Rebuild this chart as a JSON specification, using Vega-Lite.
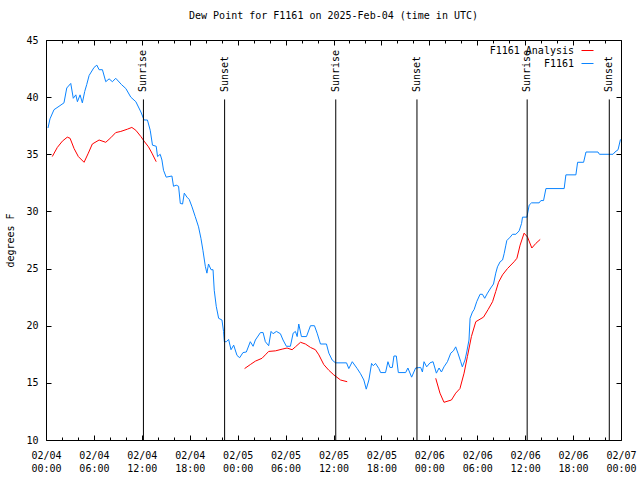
{
  "$schema": "https://vega.github.io/schema/vega-lite/v6.json",
  "width": 575,
  "height": 400,
  "autosize": {"type": "none"},
  "padding": {"left": 46, "top": 40, "right": 19, "bottom": 40},
  "background": "white",
  "title": {"text": "Dew Point for F1161 on 2025-Feb-04 (time in UTC)", "font": "DejaVu Sans Mono", "fontSize": 10, "fontWeight": "normal", "color": "black", "offset": 14, "anchor": "middle"},
  "config": {
    "view": {"stroke": "black", "strokeWidth": 1},
    "axis": {"domain": false, "grid": false, "labelFont": "DejaVu Sans Mono", "labelFontSize": 10, "labelColor": "black", "tickColor": "black", "tickWidth": 1, "titleFont": "DejaVu Sans Mono", "titleFontSize": 10, "titleFontWeight": "normal", "titleColor": "black", "labelFlush": false, "labelOverlap": false, "labelBound": false},
    "legend": {"labelFont": "DejaVu Sans Mono", "labelFontSize": 10, "labelColor": "black"}
  },
  "datasets": {
    "obs": [
      {"series": "F1161", "seg": "b", "t": "2025-02-04T00:15:00Z", "v": 37.3},
      {"series": "F1161", "seg": "b", "t": "2025-02-04T00:30:00Z", "v": 38.1},
      {"series": "F1161", "seg": "b", "t": "2025-02-04T01:00:00Z", "v": 38.9},
      {"series": "F1161", "seg": "b", "t": "2025-02-04T01:38:00Z", "v": 39.2},
      {"series": "F1161", "seg": "b", "t": "2025-02-04T02:15:00Z", "v": 39.5},
      {"series": "F1161", "seg": "b", "t": "2025-02-04T02:36:00Z", "v": 40.8},
      {"series": "F1161", "seg": "b", "t": "2025-02-04T03:06:00Z", "v": 41.2},
      {"series": "F1161", "seg": "b", "t": "2025-02-04T03:25:00Z", "v": 39.9},
      {"series": "F1161", "seg": "b", "t": "2025-02-04T03:44:00Z", "v": 40.2},
      {"series": "F1161", "seg": "b", "t": "2025-02-04T03:56:00Z", "v": 39.6},
      {"series": "F1161", "seg": "b", "t": "2025-02-04T04:16:00Z", "v": 40.2},
      {"series": "F1161", "seg": "b", "t": "2025-02-04T04:33:00Z", "v": 39.5},
      {"series": "F1161", "seg": "b", "t": "2025-02-04T04:51:00Z", "v": 40.5},
      {"series": "F1161", "seg": "b", "t": "2025-02-04T05:06:00Z", "v": 41.1},
      {"series": "F1161", "seg": "b", "t": "2025-02-04T05:24:00Z", "v": 41.9},
      {"series": "F1161", "seg": "b", "t": "2025-02-04T06:01:00Z", "v": 42.6},
      {"series": "F1161", "seg": "b", "t": "2025-02-04T06:22:00Z", "v": 42.8},
      {"series": "F1161", "seg": "b", "t": "2025-02-04T06:39:00Z", "v": 42.4},
      {"series": "F1161", "seg": "b", "t": "2025-02-04T07:04:00Z", "v": 42.4},
      {"series": "F1161", "seg": "b", "t": "2025-02-04T07:29:00Z", "v": 41.35},
      {"series": "F1161", "seg": "b", "t": "2025-02-04T07:54:00Z", "v": 41.6},
      {"series": "F1161", "seg": "b", "t": "2025-02-04T08:19:00Z", "v": 41.35},
      {"series": "F1161", "seg": "b", "t": "2025-02-04T08:44:00Z", "v": 41.65},
      {"series": "F1161", "seg": "b", "t": "2025-02-04T09:27:00Z", "v": 41.1},
      {"series": "F1161", "seg": "b", "t": "2025-02-04T10:00:00Z", "v": 40.75},
      {"series": "F1161", "seg": "b", "t": "2025-02-04T10:37:00Z", "v": 40.0},
      {"series": "F1161", "seg": "b", "t": "2025-02-04T11:15:00Z", "v": 39.6},
      {"series": "F1161", "seg": "b", "t": "2025-02-04T11:53:00Z", "v": 38.7},
      {"series": "F1161", "seg": "b", "t": "2025-02-04T12:17:00Z", "v": 38.0},
      {"series": "F1161", "seg": "b", "t": "2025-02-04T12:42:00Z", "v": 38.0},
      {"series": "F1161", "seg": "b", "t": "2025-02-04T13:03:00Z", "v": 37.1},
      {"series": "F1161", "seg": "b", "t": "2025-02-04T13:20:00Z", "v": 35.8},
      {"series": "F1161", "seg": "b", "t": "2025-02-04T13:48:00Z", "v": 35.7},
      {"series": "F1161", "seg": "b", "t": "2025-02-04T13:58:00Z", "v": 34.8},
      {"series": "F1161", "seg": "b", "t": "2025-02-04T14:18:00Z", "v": 35.0},
      {"series": "F1161", "seg": "b", "t": "2025-02-04T14:31:00Z", "v": 34.5},
      {"series": "F1161", "seg": "b", "t": "2025-02-04T14:43:00Z", "v": 33.6},
      {"series": "F1161", "seg": "b", "t": "2025-02-04T15:03:00Z", "v": 33.0},
      {"series": "F1161", "seg": "b", "t": "2025-02-04T15:46:00Z", "v": 33.1},
      {"series": "F1161", "seg": "b", "t": "2025-02-04T15:58:00Z", "v": 32.2},
      {"series": "F1161", "seg": "b", "t": "2025-02-04T16:18:00Z", "v": 32.3},
      {"series": "F1161", "seg": "b", "t": "2025-02-04T16:36:00Z", "v": 32.2},
      {"series": "F1161", "seg": "b", "t": "2025-02-04T16:49:00Z", "v": 30.7},
      {"series": "F1161", "seg": "b", "t": "2025-02-04T17:06:00Z", "v": 30.65},
      {"series": "F1161", "seg": "b", "t": "2025-02-04T17:19:00Z", "v": 31.6},
      {"series": "F1161", "seg": "b", "t": "2025-02-04T17:39:00Z", "v": 31.25},
      {"series": "F1161", "seg": "b", "t": "2025-02-04T17:56:00Z", "v": 31.05},
      {"series": "F1161", "seg": "b", "t": "2025-02-04T18:17:00Z", "v": 30.4},
      {"series": "F1161", "seg": "b", "t": "2025-02-04T18:41:00Z", "v": 29.55},
      {"series": "F1161", "seg": "b", "t": "2025-02-04T19:06:00Z", "v": 28.65},
      {"series": "F1161", "seg": "b", "t": "2025-02-04T19:24:00Z", "v": 27.65},
      {"series": "F1161", "seg": "b", "t": "2025-02-04T19:39:00Z", "v": 26.6},
      {"series": "F1161", "seg": "b", "t": "2025-02-04T19:57:00Z", "v": 25.2},
      {"series": "F1161", "seg": "b", "t": "2025-02-04T20:09:00Z", "v": 24.6},
      {"series": "F1161", "seg": "b", "t": "2025-02-04T20:21:00Z", "v": 25.4},
      {"series": "F1161", "seg": "b", "t": "2025-02-04T20:40:00Z", "v": 24.9},
      {"series": "F1161", "seg": "b", "t": "2025-02-04T20:55:00Z", "v": 24.9},
      {"series": "F1161", "seg": "b", "t": "2025-02-04T21:04:00Z", "v": 23.1},
      {"series": "F1161", "seg": "b", "t": "2025-02-04T21:19:00Z", "v": 21.7},
      {"series": "F1161", "seg": "b", "t": "2025-02-04T21:37:00Z", "v": 20.65},
      {"series": "F1161", "seg": "b", "t": "2025-02-04T22:02:00Z", "v": 20.5},
      {"series": "F1161", "seg": "b", "t": "2025-02-04T22:14:00Z", "v": 19.5},
      {"series": "F1161", "seg": "b", "t": "2025-02-04T22:20:00Z", "v": 18.6},
      {"series": "F1161", "seg": "b", "t": "2025-02-04T22:35:00Z", "v": 18.6},
      {"series": "F1161", "seg": "b", "t": "2025-02-04T22:52:00Z", "v": 18.8},
      {"series": "F1161", "seg": "b", "t": "2025-02-04T23:10:00Z", "v": 17.9},
      {"series": "F1161", "seg": "b", "t": "2025-02-04T23:30:00Z", "v": 18.3},
      {"series": "F1161", "seg": "b", "t": "2025-02-04T23:55:00Z", "v": 17.4},
      {"series": "F1161", "seg": "b", "t": "2025-02-05T00:15:00Z", "v": 17.2},
      {"series": "F1161", "seg": "b", "t": "2025-02-05T00:40:00Z", "v": 17.65},
      {"series": "F1161", "seg": "b", "t": "2025-02-05T01:05:00Z", "v": 17.7},
      {"series": "F1161", "seg": "b", "t": "2025-02-05T01:35:00Z", "v": 18.6},
      {"series": "F1161", "seg": "b", "t": "2025-02-05T01:56:00Z", "v": 18.2},
      {"series": "F1161", "seg": "b", "t": "2025-02-05T02:13:00Z", "v": 18.75},
      {"series": "F1161", "seg": "b", "t": "2025-02-05T02:51:00Z", "v": 19.4},
      {"series": "F1161", "seg": "b", "t": "2025-02-05T03:11:00Z", "v": 19.4},
      {"series": "F1161", "seg": "b", "t": "2025-02-05T03:28:00Z", "v": 18.6},
      {"series": "F1161", "seg": "b", "t": "2025-02-05T03:53:00Z", "v": 18.25},
      {"series": "F1161", "seg": "b", "t": "2025-02-05T04:11:00Z", "v": 19.5},
      {"series": "F1161", "seg": "b", "t": "2025-02-05T04:26:00Z", "v": 19.3},
      {"series": "F1161", "seg": "b", "t": "2025-02-05T04:51:00Z", "v": 19.5},
      {"series": "F1161", "seg": "b", "t": "2025-02-05T05:21:00Z", "v": 19.3},
      {"series": "F1161", "seg": "b", "t": "2025-02-05T05:41:00Z", "v": 18.75},
      {"series": "F1161", "seg": "b", "t": "2025-02-05T06:06:00Z", "v": 18.2},
      {"series": "F1161", "seg": "b", "t": "2025-02-05T06:36:00Z", "v": 18.2},
      {"series": "F1161", "seg": "b", "t": "2025-02-05T06:57:00Z", "v": 19.35},
      {"series": "F1161", "seg": "b", "t": "2025-02-05T07:14:00Z", "v": 19.5},
      {"series": "F1161", "seg": "b", "t": "2025-02-05T07:27:00Z", "v": 19.05},
      {"series": "F1161", "seg": "b", "t": "2025-02-05T07:39:00Z", "v": 20.15},
      {"series": "F1161", "seg": "b", "t": "2025-02-05T07:59:00Z", "v": 19.05},
      {"series": "F1161", "seg": "b", "t": "2025-02-05T08:37:00Z", "v": 19.05},
      {"series": "F1161", "seg": "b", "t": "2025-02-05T09:07:00Z", "v": 20.0},
      {"series": "F1161", "seg": "b", "t": "2025-02-05T09:37:00Z", "v": 20.0},
      {"series": "F1161", "seg": "b", "t": "2025-02-05T09:57:00Z", "v": 19.35},
      {"series": "F1161", "seg": "b", "t": "2025-02-05T10:22:00Z", "v": 18.4},
      {"series": "F1161", "seg": "b", "t": "2025-02-05T11:07:00Z", "v": 18.4},
      {"series": "F1161", "seg": "b", "t": "2025-02-05T11:25:00Z", "v": 17.6},
      {"series": "F1161", "seg": "b", "t": "2025-02-05T11:50:00Z", "v": 17.0},
      {"series": "F1161", "seg": "b", "t": "2025-02-05T12:15:00Z", "v": 16.75},
      {"series": "F1161", "seg": "b", "t": "2025-02-05T13:38:00Z", "v": 16.75},
      {"series": "F1161", "seg": "b", "t": "2025-02-05T13:55:00Z", "v": 16.25},
      {"series": "F1161", "seg": "b", "t": "2025-02-05T14:21:00Z", "v": 16.85},
      {"series": "F1161", "seg": "b", "t": "2025-02-05T14:58:00Z", "v": 16.25},
      {"series": "F1161", "seg": "b", "t": "2025-02-05T15:23:00Z", "v": 15.8},
      {"series": "F1161", "seg": "b", "t": "2025-02-05T15:48:00Z", "v": 15.25},
      {"series": "F1161", "seg": "b", "t": "2025-02-05T16:06:00Z", "v": 14.45},
      {"series": "F1161", "seg": "b", "t": "2025-02-05T16:26:00Z", "v": 15.25},
      {"series": "F1161", "seg": "b", "t": "2025-02-05T16:46:00Z", "v": 16.7},
      {"series": "F1161", "seg": "b", "t": "2025-02-05T16:59:00Z", "v": 16.5},
      {"series": "F1161", "seg": "b", "t": "2025-02-05T17:16:00Z", "v": 16.7},
      {"series": "F1161", "seg": "b", "t": "2025-02-05T17:41:00Z", "v": 16.25},
      {"series": "F1161", "seg": "b", "t": "2025-02-05T17:54:00Z", "v": 15.9},
      {"series": "F1161", "seg": "b", "t": "2025-02-05T18:31:00Z", "v": 15.9},
      {"series": "F1161", "seg": "b", "t": "2025-02-05T18:49:00Z", "v": 16.85},
      {"series": "F1161", "seg": "b", "t": "2025-02-05T19:04:00Z", "v": 16.35},
      {"series": "F1161", "seg": "b", "t": "2025-02-05T19:22:00Z", "v": 16.35},
      {"series": "F1161", "seg": "b", "t": "2025-02-05T19:34:00Z", "v": 17.35},
      {"series": "F1161", "seg": "b", "t": "2025-02-05T19:52:00Z", "v": 17.35},
      {"series": "F1161", "seg": "b", "t": "2025-02-05T20:07:00Z", "v": 15.9},
      {"series": "F1161", "seg": "b", "t": "2025-02-05T21:02:00Z", "v": 15.9},
      {"series": "F1161", "seg": "b", "t": "2025-02-05T21:19:00Z", "v": 16.3},
      {"series": "F1161", "seg": "b", "t": "2025-02-05T21:47:00Z", "v": 15.5},
      {"series": "F1161", "seg": "b", "t": "2025-02-05T22:17:00Z", "v": 16.3},
      {"series": "F1161", "seg": "b", "t": "2025-02-05T22:55:00Z", "v": 16.35},
      {"series": "F1161", "seg": "b", "t": "2025-02-05T23:08:00Z", "v": 15.95},
      {"series": "F1161", "seg": "b", "t": "2025-02-05T23:20:00Z", "v": 16.85},
      {"series": "F1161", "seg": "b", "t": "2025-02-05T23:40:00Z", "v": 16.4},
      {"series": "F1161", "seg": "b", "t": "2025-02-06T00:05:00Z", "v": 16.75},
      {"series": "F1161", "seg": "b", "t": "2025-02-06T00:28:00Z", "v": 16.85},
      {"series": "F1161", "seg": "b", "t": "2025-02-06T00:53:00Z", "v": 15.85},
      {"series": "F1161", "seg": "b", "t": "2025-02-06T01:13:00Z", "v": 16.3},
      {"series": "F1161", "seg": "b", "t": "2025-02-06T01:31:00Z", "v": 15.95},
      {"series": "F1161", "seg": "b", "t": "2025-02-06T01:50:00Z", "v": 16.4},
      {"series": "F1161", "seg": "b", "t": "2025-02-06T02:16:00Z", "v": 16.85},
      {"series": "F1161", "seg": "b", "t": "2025-02-06T02:41:00Z", "v": 17.6},
      {"series": "F1161", "seg": "b", "t": "2025-02-06T03:01:00Z", "v": 17.8},
      {"series": "F1161", "seg": "b", "t": "2025-02-06T03:18:00Z", "v": 18.15},
      {"series": "F1161", "seg": "b", "t": "2025-02-06T03:35:00Z", "v": 17.6},
      {"series": "F1161", "seg": "b", "t": "2025-02-06T03:56:00Z", "v": 16.85},
      {"series": "F1161", "seg": "b", "t": "2025-02-06T04:08:00Z", "v": 16.4},
      {"series": "F1161", "seg": "b", "t": "2025-02-06T04:28:00Z", "v": 17.0},
      {"series": "F1161", "seg": "b", "t": "2025-02-06T04:41:00Z", "v": 17.7},
      {"series": "F1161", "seg": "b", "t": "2025-02-06T04:58:00Z", "v": 18.75},
      {"series": "F1161", "seg": "b", "t": "2025-02-06T05:06:00Z", "v": 20.65},
      {"series": "F1161", "seg": "b", "t": "2025-02-06T05:24:00Z", "v": 21.2},
      {"series": "F1161", "seg": "b", "t": "2025-02-06T05:36:00Z", "v": 21.4},
      {"series": "F1161", "seg": "b", "t": "2025-02-06T05:56:00Z", "v": 22.1},
      {"series": "F1161", "seg": "b", "t": "2025-02-06T06:21:00Z", "v": 22.75},
      {"series": "F1161", "seg": "b", "t": "2025-02-06T06:39:00Z", "v": 22.75},
      {"series": "F1161", "seg": "b", "t": "2025-02-06T06:56:00Z", "v": 22.4},
      {"series": "F1161", "seg": "b", "t": "2025-02-06T07:17:00Z", "v": 22.85},
      {"series": "F1161", "seg": "b", "t": "2025-02-06T07:41:00Z", "v": 23.3},
      {"series": "F1161", "seg": "b", "t": "2025-02-06T08:02:00Z", "v": 23.65},
      {"series": "F1161", "seg": "b", "t": "2025-02-06T08:19:00Z", "v": 24.6},
      {"series": "F1161", "seg": "b", "t": "2025-02-06T08:32:00Z", "v": 25.15},
      {"series": "F1161", "seg": "b", "t": "2025-02-06T08:52:00Z", "v": 25.6},
      {"series": "F1161", "seg": "b", "t": "2025-02-06T09:10:00Z", "v": 25.75},
      {"series": "F1161", "seg": "b", "t": "2025-02-06T09:22:00Z", "v": 26.3},
      {"series": "F1161", "seg": "b", "t": "2025-02-06T09:35:00Z", "v": 27.05},
      {"series": "F1161", "seg": "b", "t": "2025-02-06T09:42:00Z", "v": 27.45},
      {"series": "F1161", "seg": "b", "t": "2025-02-06T10:07:00Z", "v": 27.75},
      {"series": "F1161", "seg": "b", "t": "2025-02-06T10:25:00Z", "v": 28.0},
      {"series": "F1161", "seg": "b", "t": "2025-02-06T10:50:00Z", "v": 28.0},
      {"series": "F1161", "seg": "b", "t": "2025-02-06T11:15:00Z", "v": 28.3},
      {"series": "F1161", "seg": "b", "t": "2025-02-06T11:33:00Z", "v": 28.95},
      {"series": "F1161", "seg": "b", "t": "2025-02-06T11:40:00Z", "v": 29.5},
      {"series": "F1161", "seg": "b", "t": "2025-02-06T12:13:00Z", "v": 29.5},
      {"series": "F1161", "seg": "b", "t": "2025-02-06T12:30:00Z", "v": 30.55},
      {"series": "F1161", "seg": "b", "t": "2025-02-06T12:48:00Z", "v": 30.75},
      {"series": "F1161", "seg": "b", "t": "2025-02-06T13:45:00Z", "v": 30.75},
      {"series": "F1161", "seg": "b", "t": "2025-02-06T13:58:00Z", "v": 30.95},
      {"series": "F1161", "seg": "b", "t": "2025-02-06T14:18:00Z", "v": 30.95},
      {"series": "F1161", "seg": "b", "t": "2025-02-06T14:36:00Z", "v": 32.0},
      {"series": "F1161", "seg": "b", "t": "2025-02-06T16:53:00Z", "v": 32.0},
      {"series": "F1161", "seg": "b", "t": "2025-02-06T17:06:00Z", "v": 33.2},
      {"series": "F1161", "seg": "b", "t": "2025-02-06T18:21:00Z", "v": 33.2},
      {"series": "F1161", "seg": "b", "t": "2025-02-06T18:34:00Z", "v": 34.3},
      {"series": "F1161", "seg": "b", "t": "2025-02-06T19:19:00Z", "v": 34.3},
      {"series": "F1161", "seg": "b", "t": "2025-02-06T19:37:00Z", "v": 35.2},
      {"series": "F1161", "seg": "b", "t": "2025-02-06T21:07:00Z", "v": 35.2},
      {"series": "F1161", "seg": "b", "t": "2025-02-06T21:18:00Z", "v": 35.0},
      {"series": "F1161", "seg": "b", "t": "2025-02-06T23:00:00Z", "v": 35.0},
      {"series": "F1161", "seg": "b", "t": "2025-02-06T23:15:00Z", "v": 35.2},
      {"series": "F1161", "seg": "b", "t": "2025-02-06T23:38:00Z", "v": 35.4},
      {"series": "F1161", "seg": "b", "t": "2025-02-06T23:56:00Z", "v": 36.3},
      {"series": "F1161 Analysis", "seg": "r1", "t": "2025-02-04T00:47:00Z", "v": 34.8},
      {"series": "F1161 Analysis", "seg": "r1", "t": "2025-02-04T01:25:00Z", "v": 35.6},
      {"series": "F1161 Analysis", "seg": "r1", "t": "2025-02-04T02:03:00Z", "v": 36.15},
      {"series": "F1161 Analysis", "seg": "r1", "t": "2025-02-04T02:40:00Z", "v": 36.5},
      {"series": "F1161 Analysis", "seg": "r1", "t": "2025-02-04T03:01:00Z", "v": 36.4},
      {"series": "F1161 Analysis", "seg": "r1", "t": "2025-02-04T03:31:00Z", "v": 35.5},
      {"series": "F1161 Analysis", "seg": "r1", "t": "2025-02-04T04:03:00Z", "v": 34.8},
      {"series": "F1161 Analysis", "seg": "r1", "t": "2025-02-04T04:46:00Z", "v": 34.3},
      {"series": "F1161 Analysis", "seg": "r1", "t": "2025-02-04T05:18:00Z", "v": 35.1},
      {"series": "F1161 Analysis", "seg": "r1", "t": "2025-02-04T05:48:00Z", "v": 35.9},
      {"series": "F1161 Analysis", "seg": "r1", "t": "2025-02-04T06:39:00Z", "v": 36.25},
      {"series": "F1161 Analysis", "seg": "r1", "t": "2025-02-04T07:29:00Z", "v": 36.05},
      {"series": "F1161 Analysis", "seg": "r1", "t": "2025-02-04T08:07:00Z", "v": 36.45},
      {"series": "F1161 Analysis", "seg": "r1", "t": "2025-02-04T08:44:00Z", "v": 36.9},
      {"series": "F1161 Analysis", "seg": "r1", "t": "2025-02-04T09:22:00Z", "v": 37.0},
      {"series": "F1161 Analysis", "seg": "r1", "t": "2025-02-04T10:12:00Z", "v": 37.2},
      {"series": "F1161 Analysis", "seg": "r1", "t": "2025-02-04T10:45:00Z", "v": 37.35},
      {"series": "F1161 Analysis", "seg": "r1", "t": "2025-02-04T11:15:00Z", "v": 37.1},
      {"series": "F1161 Analysis", "seg": "r1", "t": "2025-02-04T11:53:00Z", "v": 36.55},
      {"series": "F1161 Analysis", "seg": "r1", "t": "2025-02-04T12:17:00Z", "v": 36.15},
      {"series": "F1161 Analysis", "seg": "r1", "t": "2025-02-04T12:50:00Z", "v": 35.65},
      {"series": "F1161 Analysis", "seg": "r1", "t": "2025-02-04T13:16:00Z", "v": 35.1},
      {"series": "F1161 Analysis", "seg": "r1", "t": "2025-02-04T13:48:00Z", "v": 34.35},
      {"series": "F1161 Analysis", "seg": "r2", "t": "2025-02-05T00:52:00Z", "v": 16.25},
      {"series": "F1161 Analysis", "seg": "r2", "t": "2025-02-05T01:35:00Z", "v": 16.6},
      {"series": "F1161 Analysis", "seg": "r2", "t": "2025-02-05T02:13:00Z", "v": 16.9},
      {"series": "F1161 Analysis", "seg": "r2", "t": "2025-02-05T03:03:00Z", "v": 17.15},
      {"series": "F1161 Analysis", "seg": "r2", "t": "2025-02-05T03:28:00Z", "v": 17.45},
      {"series": "F1161 Analysis", "seg": "r2", "t": "2025-02-05T03:53:00Z", "v": 17.75},
      {"series": "F1161 Analysis", "seg": "r2", "t": "2025-02-05T04:44:00Z", "v": 17.8},
      {"series": "F1161 Analysis", "seg": "r2", "t": "2025-02-05T05:34:00Z", "v": 17.95},
      {"series": "F1161 Analysis", "seg": "r2", "t": "2025-02-05T06:11:00Z", "v": 18.05},
      {"series": "F1161 Analysis", "seg": "r2", "t": "2025-02-05T06:49:00Z", "v": 17.9},
      {"series": "F1161 Analysis", "seg": "r2", "t": "2025-02-05T07:14:00Z", "v": 18.15},
      {"series": "F1161 Analysis", "seg": "r2", "t": "2025-02-05T07:52:00Z", "v": 18.55},
      {"series": "F1161 Analysis", "seg": "r2", "t": "2025-02-05T08:29:00Z", "v": 18.4},
      {"series": "F1161 Analysis", "seg": "r2", "t": "2025-02-05T09:07:00Z", "v": 18.1},
      {"series": "F1161 Analysis", "seg": "r2", "t": "2025-02-05T09:44:00Z", "v": 17.9},
      {"series": "F1161 Analysis", "seg": "r2", "t": "2025-02-05T10:10:00Z", "v": 17.45},
      {"series": "F1161 Analysis", "seg": "r2", "t": "2025-02-05T10:47:00Z", "v": 16.6},
      {"series": "F1161 Analysis", "seg": "r2", "t": "2025-02-05T11:25:00Z", "v": 16.1},
      {"series": "F1161 Analysis", "seg": "r2", "t": "2025-02-05T12:02:00Z", "v": 15.7},
      {"series": "F1161 Analysis", "seg": "r2", "t": "2025-02-05T12:53:00Z", "v": 15.25},
      {"series": "F1161 Analysis", "seg": "r2", "t": "2025-02-05T13:43:00Z", "v": 15.1},
      {"series": "F1161 Analysis", "seg": "r3", "t": "2025-02-06T00:48:00Z", "v": 15.4},
      {"series": "F1161 Analysis", "seg": "r3", "t": "2025-02-06T01:20:00Z", "v": 14.1},
      {"series": "F1161 Analysis", "seg": "r3", "t": "2025-02-06T01:50:00Z", "v": 13.3},
      {"series": "F1161 Analysis", "seg": "r3", "t": "2025-02-06T02:46:00Z", "v": 13.5},
      {"series": "F1161 Analysis", "seg": "r3", "t": "2025-02-06T03:18:00Z", "v": 14.1},
      {"series": "F1161 Analysis", "seg": "r3", "t": "2025-02-06T03:50:00Z", "v": 14.5},
      {"series": "F1161 Analysis", "seg": "r3", "t": "2025-02-06T04:21:00Z", "v": 15.85},
      {"series": "F1161 Analysis", "seg": "r3", "t": "2025-02-06T04:46:00Z", "v": 17.3},
      {"series": "F1161 Analysis", "seg": "r3", "t": "2025-02-06T05:16:00Z", "v": 19.05},
      {"series": "F1161 Analysis", "seg": "r3", "t": "2025-02-06T05:49:00Z", "v": 20.35},
      {"series": "F1161 Analysis", "seg": "r3", "t": "2025-02-06T06:47:00Z", "v": 20.75},
      {"series": "F1161 Analysis", "seg": "r3", "t": "2025-02-06T07:21:00Z", "v": 21.4},
      {"series": "F1161 Analysis", "seg": "r3", "t": "2025-02-06T07:55:00Z", "v": 22.1},
      {"series": "F1161 Analysis", "seg": "r3", "t": "2025-02-06T08:19:00Z", "v": 23.0},
      {"series": "F1161 Analysis", "seg": "r3", "t": "2025-02-06T08:40:00Z", "v": 23.8},
      {"series": "F1161 Analysis", "seg": "r3", "t": "2025-02-06T09:10:00Z", "v": 24.45},
      {"series": "F1161 Analysis", "seg": "r3", "t": "2025-02-06T09:47:00Z", "v": 25.0},
      {"series": "F1161 Analysis", "seg": "r3", "t": "2025-02-06T10:37:00Z", "v": 25.6},
      {"series": "F1161 Analysis", "seg": "r3", "t": "2025-02-06T10:58:00Z", "v": 25.9},
      {"series": "F1161 Analysis", "seg": "r3", "t": "2025-02-06T11:22:00Z", "v": 27.05},
      {"series": "F1161 Analysis", "seg": "r3", "t": "2025-02-06T11:52:00Z", "v": 28.1},
      {"series": "F1161 Analysis", "seg": "r3", "t": "2025-02-06T12:18:00Z", "v": 27.75},
      {"series": "F1161 Analysis", "seg": "r3", "t": "2025-02-06T12:50:00Z", "v": 26.8},
      {"series": "F1161 Analysis", "seg": "r3", "t": "2025-02-06T13:20:00Z", "v": 27.2},
      {"series": "F1161 Analysis", "seg": "r3", "t": "2025-02-06T13:53:00Z", "v": 27.55}
    ],
    "sun": [
      {"label": "Sunrise", "t": "2025-02-04T12:12:00Z"},
      {"label": "Sunset", "t": "2025-02-04T22:22:00Z"},
      {"label": "Sunrise", "t": "2025-02-05T12:17:00Z"},
      {"label": "Sunset", "t": "2025-02-05T22:27:00Z"},
      {"label": "Sunrise", "t": "2025-02-06T12:15:00Z"},
      {"label": "Sunset", "t": "2025-02-06T22:32:00Z"}
    ]
  },
  "layer": [
    {
      "data": {"name": "obs"},
      "mark": {"type": "line", "strokeWidth": 1, "interpolate": "linear"},
      "encoding": {
        "x": {"field": "t", "type": "temporal",
          "scale": {"type": "utc", "domain": [{"year": 2025, "month": 2, "date": 4, "utc": true}, {"year": 2025, "month": 2, "date": 7, "utc": true}]},
          "axis": {"orient": "bottom", "title": null, "tickCount": 12, "tickSize": -5, "labelPadding": 15, "labelBaseline": "top", "labelLineHeight": 13,
            "labelExpr": "[utcFormat(datum.value, '%m/%d'), utcFormat(datum.value, '%H:%M')]"}},
        "y": {"field": "v", "type": "quantitative",
          "scale": {"domain": [10, 45], "nice": false, "zero": false},
          "axis": {"orient": "left", "title": "degrees F", "values": [10, 15, 20, 25, 30, 35, 40, 45], "tickSize": -5, "labelPadding": 13, "titlePadding": 10}},
        "color": {"field": "series", "type": "nominal",
          "scale": {"domain": ["F1161 Analysis", "F1161"], "range": ["#ff0000", "#0a84ff"]},
          "legend": {"title": null, "orient": "none", "legendX": 535, "legendY": 4, "padding": 0, "rowPadding": 1,
            "symbolType": "stroke", "symbolSize": 144, "symbolStrokeWidth": 1, "labelAlign": "right", "labelOffset": -20}},
        "detail": {"field": "seg"}
      }
    },
    {
      "data": {"name": "sun"},
      "mark": {"type": "rule", "color": "black", "strokeWidth": 1},
      "encoding": {
        "x": {"field": "t", "type": "temporal",
          "axis": {"orient": "bottom", "title": null, "tickSize": -3, "labels": false,
            "values": [
              {"year": 2025, "month": 2, "date": 4, "hours": 2, "utc": true}, {"year": 2025, "month": 2, "date": 4, "hours": 4, "utc": true},
              {"year": 2025, "month": 2, "date": 4, "hours": 8, "utc": true}, {"year": 2025, "month": 2, "date": 4, "hours": 10, "utc": true},
              {"year": 2025, "month": 2, "date": 4, "hours": 14, "utc": true}, {"year": 2025, "month": 2, "date": 4, "hours": 16, "utc": true},
              {"year": 2025, "month": 2, "date": 4, "hours": 20, "utc": true}, {"year": 2025, "month": 2, "date": 4, "hours": 22, "utc": true},
              {"year": 2025, "month": 2, "date": 5, "hours": 2, "utc": true}, {"year": 2025, "month": 2, "date": 5, "hours": 4, "utc": true},
              {"year": 2025, "month": 2, "date": 5, "hours": 8, "utc": true}, {"year": 2025, "month": 2, "date": 5, "hours": 10, "utc": true},
              {"year": 2025, "month": 2, "date": 5, "hours": 14, "utc": true}, {"year": 2025, "month": 2, "date": 5, "hours": 16, "utc": true},
              {"year": 2025, "month": 2, "date": 5, "hours": 20, "utc": true}, {"year": 2025, "month": 2, "date": 5, "hours": 22, "utc": true},
              {"year": 2025, "month": 2, "date": 6, "hours": 2, "utc": true}, {"year": 2025, "month": 2, "date": 6, "hours": 4, "utc": true},
              {"year": 2025, "month": 2, "date": 6, "hours": 8, "utc": true}, {"year": 2025, "month": 2, "date": 6, "hours": 10, "utc": true},
              {"year": 2025, "month": 2, "date": 6, "hours": 14, "utc": true}, {"year": 2025, "month": 2, "date": 6, "hours": 16, "utc": true},
              {"year": 2025, "month": 2, "date": 6, "hours": 20, "utc": true}, {"year": 2025, "month": 2, "date": 6, "hours": 22, "utc": true}
            ]}},
        "y": {"datum": 10, "type": "quantitative", "axis": null},
        "y2": {"datum": 39.8}
      }
    },
    {
      "data": {"name": "sun"},
      "mark": {"type": "text", "angle": 270, "align": "left", "baseline": "middle", "font": "DejaVu Sans Mono", "fontSize": 10, "color": "black"},
      "encoding": {
        "x": {"field": "t", "type": "temporal",
          "axis": {"orient": "top", "title": null, "tickCount": 12, "tickSize": -5, "labels": false}},
        "y": {"datum": 40.45, "type": "quantitative", "axis": null},
        "text": {"field": "label"}
      }
    },
    {
      "data": {"name": "obs"},
      "mark": {"type": "line", "opacity": 0},
      "encoding": {
        "x": {"field": "t", "type": "temporal",
          "axis": {"orient": "top", "title": null, "tickSize": -3, "labels": false,
            "values": [
              {"year": 2025, "month": 2, "date": 4, "hours": 2, "utc": true}, {"year": 2025, "month": 2, "date": 4, "hours": 4, "utc": true},
              {"year": 2025, "month": 2, "date": 4, "hours": 8, "utc": true}, {"year": 2025, "month": 2, "date": 4, "hours": 10, "utc": true},
              {"year": 2025, "month": 2, "date": 4, "hours": 14, "utc": true}, {"year": 2025, "month": 2, "date": 4, "hours": 16, "utc": true},
              {"year": 2025, "month": 2, "date": 4, "hours": 20, "utc": true}, {"year": 2025, "month": 2, "date": 4, "hours": 22, "utc": true},
              {"year": 2025, "month": 2, "date": 5, "hours": 2, "utc": true}, {"year": 2025, "month": 2, "date": 5, "hours": 4, "utc": true},
              {"year": 2025, "month": 2, "date": 5, "hours": 8, "utc": true}, {"year": 2025, "month": 2, "date": 5, "hours": 10, "utc": true},
              {"year": 2025, "month": 2, "date": 5, "hours": 14, "utc": true}, {"year": 2025, "month": 2, "date": 5, "hours": 16, "utc": true},
              {"year": 2025, "month": 2, "date": 5, "hours": 20, "utc": true}, {"year": 2025, "month": 2, "date": 5, "hours": 22, "utc": true},
              {"year": 2025, "month": 2, "date": 6, "hours": 2, "utc": true}, {"year": 2025, "month": 2, "date": 6, "hours": 4, "utc": true},
              {"year": 2025, "month": 2, "date": 6, "hours": 8, "utc": true}, {"year": 2025, "month": 2, "date": 6, "hours": 10, "utc": true},
              {"year": 2025, "month": 2, "date": 6, "hours": 14, "utc": true}, {"year": 2025, "month": 2, "date": 6, "hours": 16, "utc": true},
              {"year": 2025, "month": 2, "date": 6, "hours": 20, "utc": true}, {"year": 2025, "month": 2, "date": 6, "hours": 22, "utc": true}
            ]}},
        "y": {"field": "v", "type": "quantitative",
          "axis": {"orient": "right", "title": null, "values": [10, 15, 20, 25, 30, 35, 40, 45], "tickSize": -5, "labels": false}},
        "detail": {"field": "seg"}
      }
    }
  ],
  "resolve": {"axis": {"x": "independent", "y": "independent"}}
}
